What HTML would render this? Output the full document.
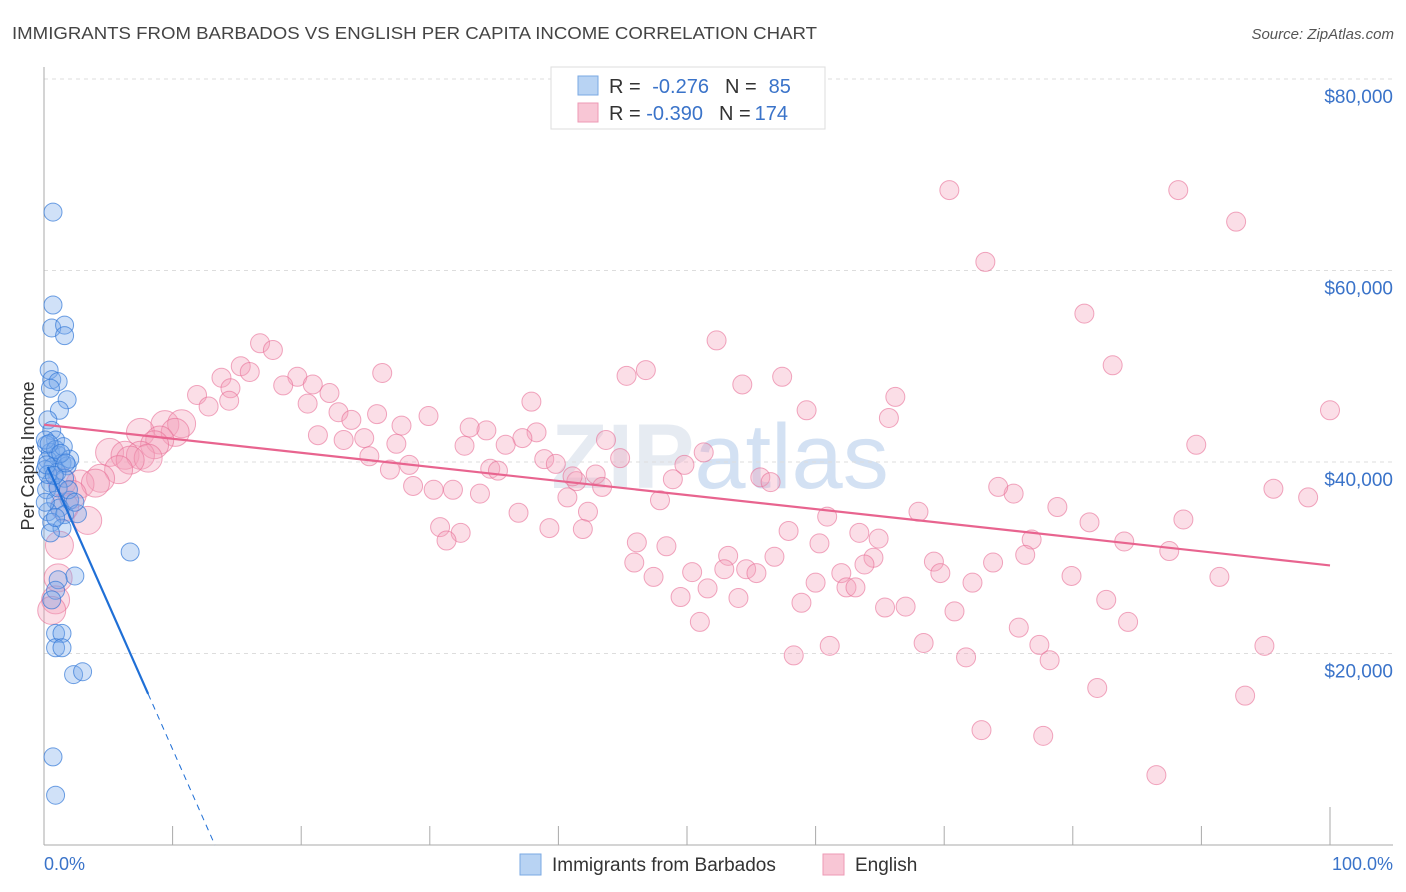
<!DOCTYPE html>
<html><head><meta charset="utf-8"><style>
body{margin:0;background:#fff;font-family:"Liberation Sans",sans-serif;}
svg{display:block}
</style></head><body>
<svg id="chart" width="1406" height="892" viewBox="0 0 1406 892" xmlns="http://www.w3.org/2000/svg">
<text x="12" y="39" font-size="17.5" fill="#444" textLength="805" lengthAdjust="spacingAndGlyphs">IMMIGRANTS FROM BARBADOS VS ENGLISH PER CAPITA INCOME CORRELATION CHART</text>
<text x="1394" y="39" font-size="15" fill="#555" font-style="italic" text-anchor="end">Source: ZipAtlas.com</text>
<text x="720" y="488" font-size="92" fill="#e6ebf2" text-anchor="middle" font-weight="bold">ZIP<tspan fill="#d3e1f3" font-weight="normal">atlas</tspan></text>
<g id="grid"></g>
<g id="axes"></g>
<g id="pink"></g>
<g id="blue"></g>
<g id="lines"></g>
<text transform="translate(34,456) rotate(-90)" font-size="18" fill="#333" text-anchor="middle">Per Capita Income</text>
<text x="44" y="870" font-size="18" fill="#3a73c9">0.0%</text>
<text x="1393" y="870" font-size="18" fill="#3a73c9" text-anchor="end">100.0%</text>
<g>
<rect x="551" y="67" width="274" height="62" fill="#fff" stroke="#ddd"/>
<rect x="578" y="76" width="20" height="19" fill="#b8d3f3" stroke="#7aa8e3"/>
<rect x="578" y="103" width="20" height="19" fill="#f8c6d5" stroke="#ee9ab5"/>
<text x="609" y="93" font-size="20" fill="#333">R = <tspan fill="#3a73c9" dx="6">-0.276</tspan><tspan dx="16" fill="#333">N =</tspan><tspan dx="12" fill="#3a73c9">85</tspan></text>
<text x="609" y="120" font-size="20" fill="#333">R = <tspan fill="#3a73c9" dx="0">-0.390</tspan><tspan dx="16" fill="#333">N =</tspan><tspan dx="4" fill="#3a73c9">174</tspan></text>
</g>
<g>
<rect x="520" y="854" width="21" height="21" fill="#b8d3f3" stroke="#7aa8e3"/>
<text x="552" y="871" font-size="19" fill="#333">Immigrants from Barbados</text>
<rect x="823" y="854" width="21" height="21" fill="#f8c6d5" stroke="#ee9ab5"/>
<text x="855" y="871" font-size="19" fill="#333">English</text>
</g>
</svg>
<script>
const yTicks=[20000,40000,60000,80000];
const yTickLabels=["$20,000","$40,000","$60,000","$80,000"];
const xTicks=[0,10,20,30,40,50,60,70,80,90,100];
const pinkX=[70.4,88.2,92.7,73.2,80.9,52.3,83.1,16.8,17.8,15.3,16.0,26.3,46.8,45.3,57.4,54.3,19.7,18.6,20.9,13.8,14.5,11.9,66.2,37.9,22.2,20.5,14.4,12.8,59.3,100,22.9,23.9,25.9,29.9,65.7,27.8,34.4,33.1,38.3,37.2,21.3,23.3,24.9,27.4,32.7,35.9,43.7,89.6,51.3,25.3,38.9,44.8,39.8,49.8,28.4,26.9,34.7,35.3,55.7,42.9,41.4,41.1,48.9,56.5,43.4,28.7,30.3,31.8,33.9,40.7,47.9,75.4,95.6,98.3,74.2,78.8,68.0,42.3,36.9,60.9,81.3,88.6,30.8,32.4,31.3,39.3,41.9,57.9,63.4,64.9,60.3,46.1,48.4,76.8,84.0,76.3,87.5,53.2,56.8,64.5,63.8,69.2,73.8,45.9,52.9,54.6,55.4,50.4,69.7,47.4,79.9,91.4,62.0,60.0,62.4,63.1,72.2,51.6,49.5,54.0,82.6,58.9,65.4,67.0,70.8,51.0,84.3,75.8,77.4,68.4,61.1,58.3,71.7,78.2,94.9,81.9,93.4,72.9,77.7,86.5];
const pinkY=[68.4,68.4,65.1,60.9,55.5,52.7,50.1,52.4,51.7,50.0,49.4,49.3,49.6,49.0,48.9,48.1,48.9,48.0,48.1,48.8,47.7,47.0,46.8,46.3,47.2,46.1,46.4,45.8,45.4,45.4,45.2,44.4,45.0,44.8,44.6,43.8,43.3,43.6,43.1,42.5,42.8,42.3,42.5,41.9,41.7,41.8,42.3,41.8,41.0,40.6,40.3,40.4,39.8,39.7,39.7,39.2,39.3,39.1,38.4,38.7,38.0,38.5,38.2,37.9,37.4,37.5,37.1,37.1,36.7,36.3,36.0,36.7,37.2,36.3,37.4,35.3,34.8,34.8,34.7,34.3,33.7,34.0,33.2,32.6,31.8,33.1,33.0,32.8,32.6,32.0,31.5,31.6,31.2,31.9,31.7,30.3,30.7,30.2,30.1,30.0,29.3,29.6,29.5,29.5,28.8,28.8,28.4,28.5,28.4,28.0,28.1,28.0,28.4,27.4,26.9,26.9,27.4,26.8,25.9,25.8,25.6,25.3,24.8,24.9,24.4,23.3,23.3,22.7,20.9,21.1,20.8,19.8,19.6,19.3,20.8,16.4,15.6,12.0,11.4,7.3];
const pinkBigX=[9.4,10.7,10.2,7.5,9.0,8.6,5.1,6.3,7.5,8.1,6.7,5.8,4.4,2.8,4.0,1.4,2.2,1.6,3.4,1.2,1.1,0.9,0.6];
const pinkBigY=[43.9,44.0,43.1,43.1,42.3,41.8,41.0,40.7,40.7,40.4,40.2,39.2,38.3,37.7,37.8,37.9,36.6,35.3,33.9,31.3,27.9,25.6,24.5];
const blueX=[0.7,0.7,0.6,1.6,1.6,0.4,0.6,1.1,0.5,1.8,1.2,0.3,0.6,0.9,0.2,0.5,1.1,0.3,1.4,0.7,1.8,0.1,1.0,1.6,0.5,0.2,2.0,0.9,1.2,0.3,1.6,2.6,0.6,1.4,0.5,6.7,2.4,1.1,0.9,0.6,0.9,1.4,0.9,1.4,2.3,3.0,0.7,0.9,0.1,0.9,1.5,2.0,0.3,1.1,1.9,2.4,0.1,0.9,0.4,1.3,0.2,0.8,1.7];
const blueY=[66.1,56.4,54.0,54.3,53.2,49.6,48.6,48.4,47.7,46.5,45.4,44.4,43.3,42.3,41.8,41.0,40.7,40.2,39.9,39.5,39.6,39.2,38.9,38.3,37.8,37.1,36.0,36.0,35.2,34.8,34.5,34.6,33.7,33.1,32.6,30.6,28.1,27.7,26.6,25.6,22.1,22.1,20.6,20.6,17.8,18.1,9.2,5.2,42.3,41.3,41.6,40.3,38.7,37.3,37.1,35.8,35.8,34.2,41.9,40.9,39.7,38.6,39.9];
const pinkLine=[43.9,29.2];
const blueLine=[40.4,-263.6];
const blueSolidEnd=8.1;

const NS="http://www.w3.org/2000/svg";
const X0=44,X1=1330,Y0=845,Y80=79;
function sx(p){return X0+(X1-X0)*p/100;}
function sy(k){return Y0-(Y0-Y80)*k/80;}
function mk(tag,attrs,parent){const e=document.createElementNS(NS,tag);for(const a in attrs)e.setAttribute(a,attrs[a]);parent.appendChild(e);return e;}
const grid=document.getElementById('grid'),axes=document.getElementById('axes');
yTicks.forEach((v,i)=>{
 const g=mk('line',{x1:44,x2:1393,y1:sy(v/1000),y2:sy(v/1000),stroke:'#ddd','stroke-dasharray':'4,4'},grid);
 
 
 const t=mk('text',{x:1393,y:sy(v/1000)+24,'font-size':19,fill:'#3a73c9','text-anchor':'end'},grid);
 t.textContent=yTickLabels[i];
 
 
});
const ax=mk('line',{x1:44,x2:44,y1:67,y2:845,stroke:'#aaa'},axes);


const bx=mk('line',{x1:44,x2:1393,y1:845,y2:845,stroke:'#aaa'},axes);


xTicks.forEach((p,i)=>{
 if(i===0)return;
 const t=mk('line',{x1:sx(p),x2:sx(p),y1:(p===100?807:826),y2:845,stroke:'#aaa'},axes);
 
 
});
const pg=document.getElementById('pink'),bg=document.getElementById('blue');
pinkBigX.forEach((p,i)=>{
 const c=mk('circle',{cx:sx(p),cy:sy(pinkBigY[i]),r:14,fill:'rgba(244,160,186,0.35)',stroke:'rgba(232,110,150,0.6)'},pg);
 
 
});
pinkX.forEach((p,i)=>{
 const c=mk('circle',{cx:sx(p),cy:sy(pinkY[i]),r:9.5,fill:'rgba(244,160,186,0.35)',stroke:'rgba(232,110,150,0.6)'},pg);
 
 
});
blueX.forEach((p,i)=>{
 const c=mk('circle',{cx:sx(p),cy:sy(blueY[i]),r:9,fill:'rgba(120,170,235,0.35)',stroke:'rgba(50,120,215,0.7)'},bg);
 
 
});
const lg=document.getElementById('lines');
function ly(line,p){return line[0]+(line[1]-line[0])*p/100;}
const pl=mk('line',{x1:sx(0),y1:sy(ly(pinkLine,0)),x2:sx(100),y2:sy(ly(pinkLine,100)),stroke:'#e8648f','stroke-width':2.2},lg);


const bl=mk('line',{x1:sx(0.3),y1:sy(ly(blueLine,0.3)),x2:sx(blueSolidEnd),y2:sy(ly(blueLine,blueSolidEnd)),stroke:'#1f6fd6','stroke-width':2.2},lg);


const zp=-blueLine[0]*100/(blueLine[1]-blueLine[0]);
const bd=mk('line',{x1:sx(blueSolidEnd),y1:sy(ly(blueLine,blueSolidEnd)),x2:sx(zp),y2:sy(0),stroke:'#1f6fd6','stroke-width':1,'stroke-dasharray':'6,5'},lg);


</script>
</body></html>
